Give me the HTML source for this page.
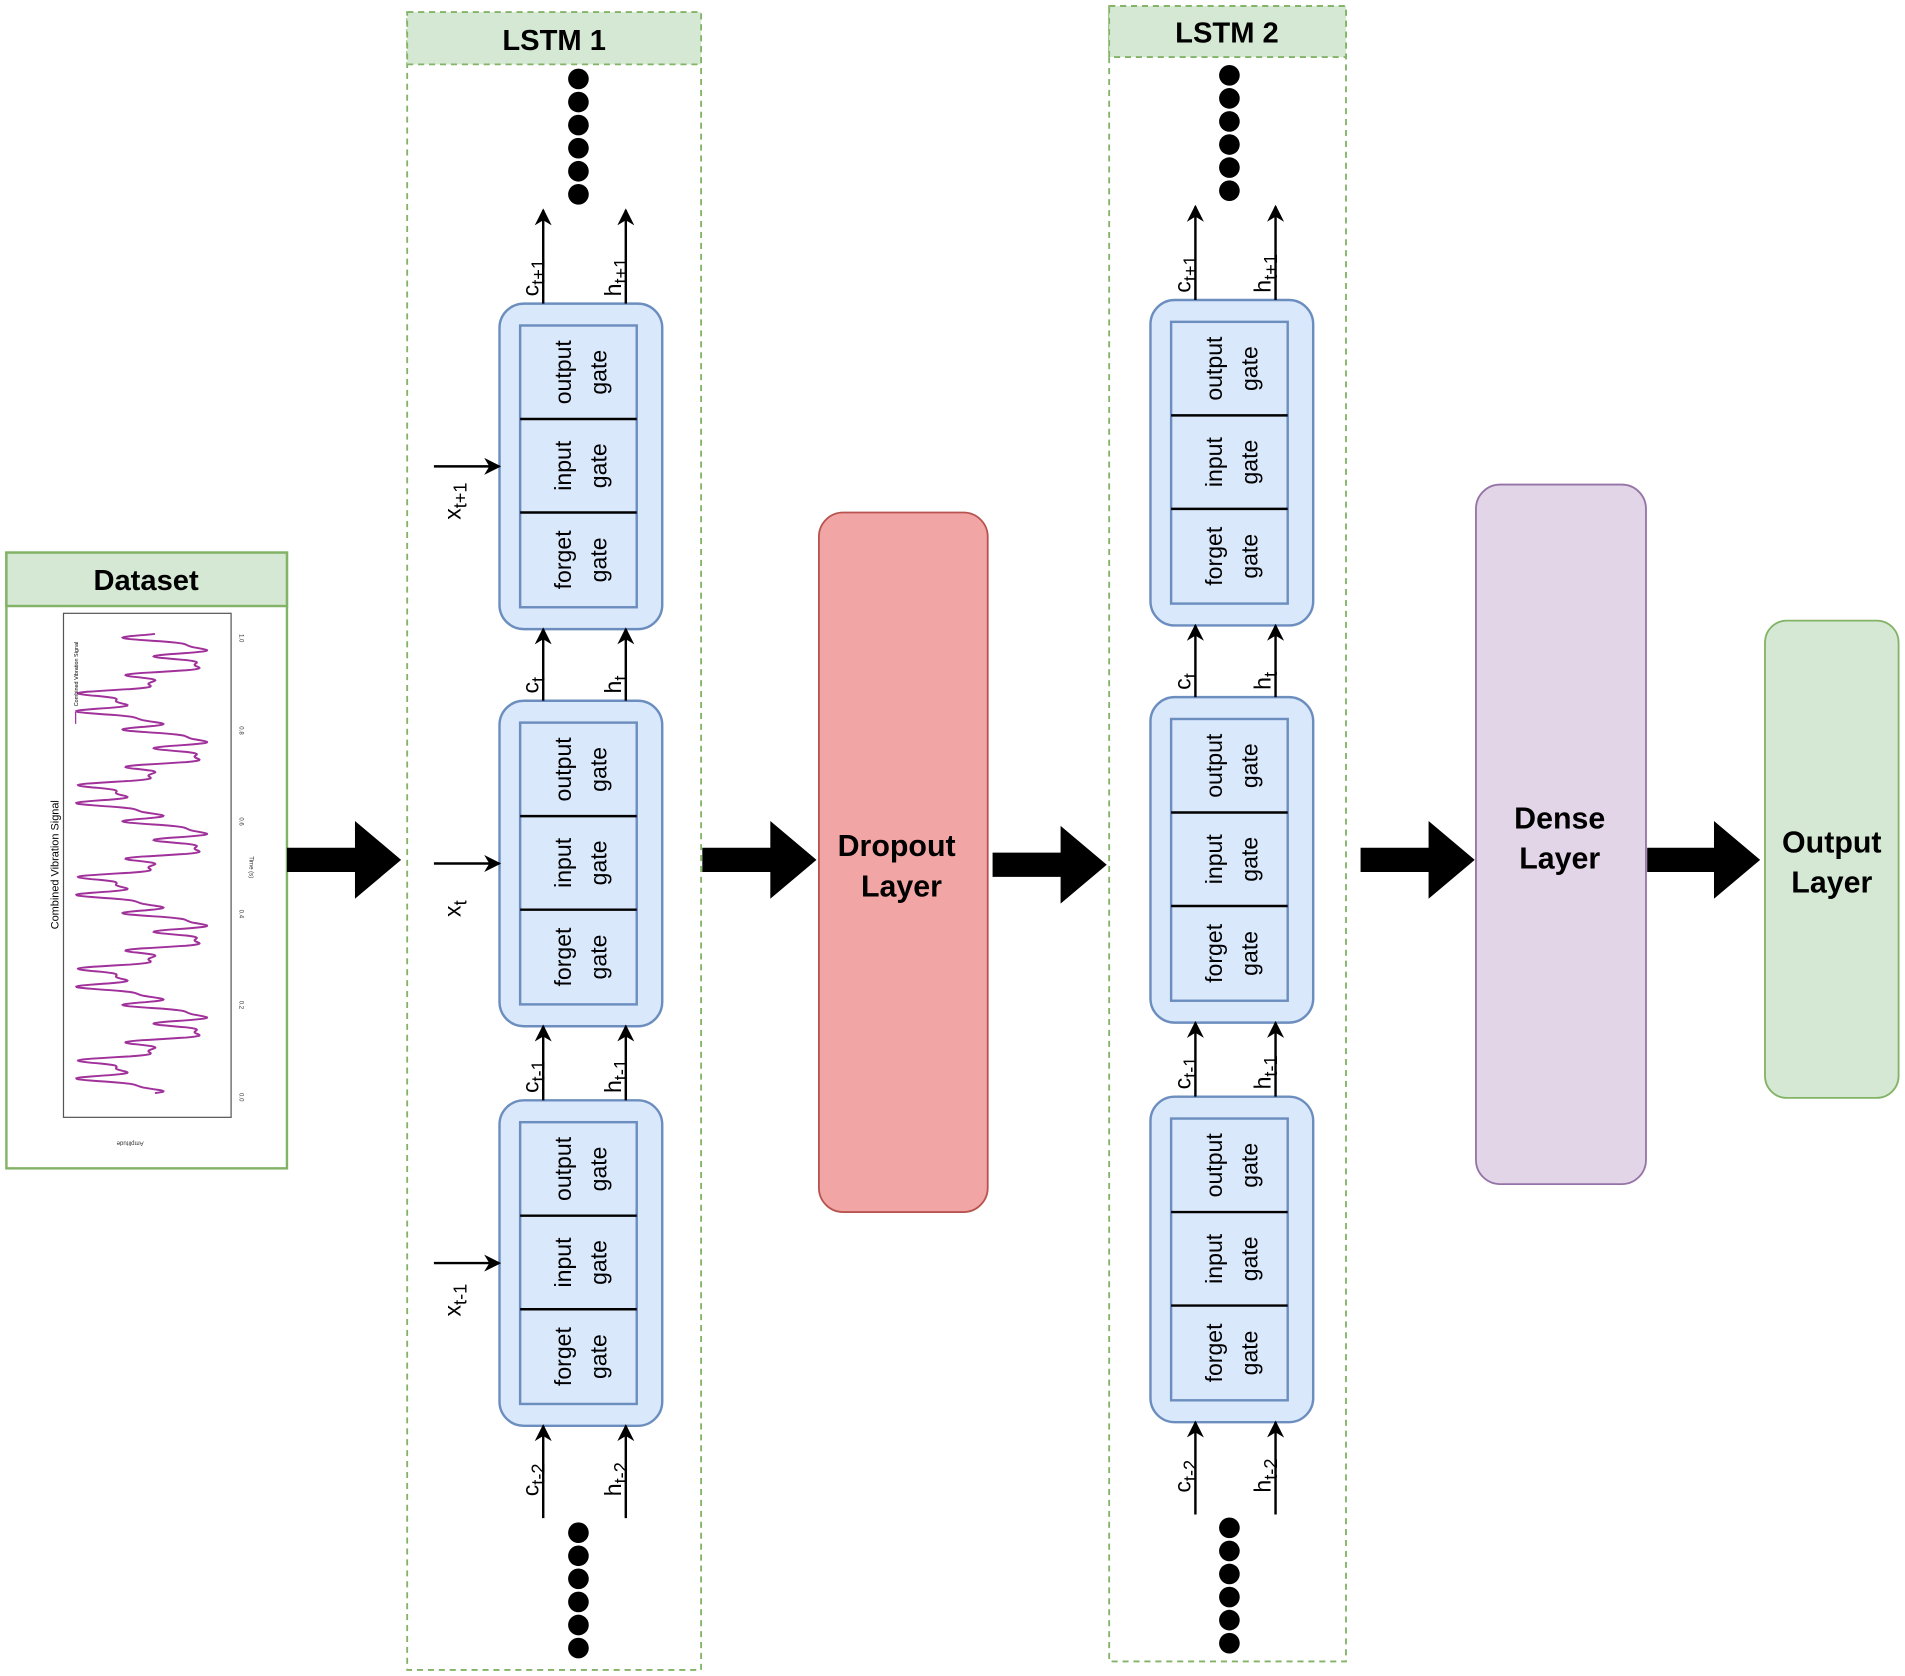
<!DOCTYPE html>
<html><head><meta charset="utf-8"><style>
html,body{margin:0;padding:0;background:#fff;}
svg{display:block;font-family:"Liberation Sans",Arial,sans-serif;}
</style></head><body>
<svg id="s" width="1905" height="1676" viewBox="0 0 1568 1380" xmlns="http://www.w3.org/2000/svg">
<defs>
<marker id="ah" viewBox="0 0 10 10" refX="9" refY="5" markerWidth="16" markerHeight="14" markerUnits="userSpaceOnUse" orient="auto">
<path d="M0,0 L10,5 L0,10 L3,5 z" fill="#000"/></marker>
</defs>
<rect width="1568" height="1380" fill="#fff"/>

<!-- Dataset -->
<rect x="5" y="455" width="231" height="507" fill="#fff" stroke="#82b366" stroke-width="2"/>
<rect x="5" y="455" width="231" height="44" fill="#d5e8d4" stroke="#82b366" stroke-width="2"/>
<text x="120" y="486" font-size="24" font-weight="bold" text-anchor="middle">Dataset</text>
<rect x="52" y="505" width="138" height="415" fill="#fff" stroke="#555" stroke-width="1"/>
<polyline id="sig" fill="none" stroke="#a0309a" stroke-width="1.6"/>
<text transform="translate(48,712) rotate(-90)" font-size="9" text-anchor="middle">Combined Vibration Signal</text>
<text transform="translate(64,555) rotate(-90)" font-size="4.5" text-anchor="middle">Combined Vibration Signal</text>
<line x1="62" y1="596" x2="62" y2="586" stroke="#a0309a"/>
<g font-size="5" fill="#333">
<text transform="translate(197,522) rotate(90)">1.0</text>
<text transform="translate(197,598) rotate(90)">0.8</text>
<text transform="translate(197,673) rotate(90)">0.6</text>
<text transform="translate(197,749) rotate(90)">0.4</text>
<text transform="translate(197,824) rotate(90)">0.2</text>
<text transform="translate(197,900) rotate(90)">0.0</text>
<text transform="translate(205,705) rotate(90)">Time (s)</text>
<text transform="translate(118,940) rotate(180)">Amplitude</text>
</g>

<!-- big arrows -->
<g fill="#000">
<path d="M236,698 H292 V676 L330,708 L292,740 V718 H236 z"/>
<path d="M578,698 H634 V676 L672,708 L634,740 V718 H578 z"/>
<path d="M817,702 H873 V680 L911,712 L873,744 V722 H817 z"/>
<path d="M1120,698 H1176 V676 L1214,708 L1176,740 V718 H1120 z"/>
<path d="M1356,698 H1411 V676 L1449,708 L1411,740 V718 H1356 z"/>
</g>

<!-- LSTM containers -->
<rect x="335" y="10" width="242" height="1365" fill="none" stroke="#82b366" stroke-width="1.5" stroke-dasharray="5,4"/>
<rect x="335" y="10" width="242" height="43" fill="#d5e8d4" stroke="#82b366" stroke-width="1.5" stroke-dasharray="5,4"/>
<text x="456" y="41" font-size="24" font-weight="bold" text-anchor="middle">LSTM 1</text>
<rect x="913" y="5" width="195" height="1363" fill="none" stroke="#82b366" stroke-width="1.5" stroke-dasharray="5,4"/>
<rect x="913" y="5" width="195" height="42" fill="#d5e8d4" stroke="#82b366" stroke-width="1.5" stroke-dasharray="5,4"/>
<text x="1010" y="35" font-size="24" font-weight="bold" text-anchor="middle">LSTM 2</text>

<g id="cells"></g>

<!-- layers -->
<rect x="674" y="422" width="139" height="576" rx="20" fill="#f2a5a5" stroke="#b85450" stroke-width="1.5"/>
<text x="738" y="705" font-size="25" font-weight="bold" text-anchor="middle">Dropout</text>
<text x="742" y="738" font-size="25" font-weight="bold" text-anchor="middle">Layer</text>
<rect x="1215" y="399" width="140" height="576" rx="20" fill="#e1d5e7" stroke="#9673a6" stroke-width="1.5"/>
<text x="1284" y="682" font-size="25" font-weight="bold" text-anchor="middle">Dense</text>
<text x="1284" y="715" font-size="25" font-weight="bold" text-anchor="middle">Layer</text>
<rect x="1453" y="511" width="110" height="393" rx="18" fill="#d5e8d4" stroke="#82b366" stroke-width="1.5"/>
<text x="1508" y="702" font-size="25" font-weight="bold" text-anchor="middle">Output</text>
<text x="1508" y="735" font-size="25" font-weight="bold" text-anchor="middle">Layer</text>
</svg>
<script>
(function(){
var pts=[];
for(var i=0;i<=1000;i++){var t=i/1000;
var a=Math.sin(2*Math.PI*5*t+Math.PI)*1.2+0.7*Math.sin(2*Math.PI*25*t)+0.3*Math.sin(2*Math.PI*50*t+1);
a=-a;
pts.push((120-a*29).toFixed(1)+","+(900-t*378).toFixed(1));}
document.getElementById("sig").setAttribute("points",pts.join(" "));
var g=document.getElementById("cells"),h="";
function cellSet(X,tops,cx,hx,dx,dotTop,dotBot,xin){
 var subs=[["t+1","t"],["t","t-1"],["t-1","t-2"]];
 var xl=["t+1","t","t-1"];
 tops.forEach(function(T,k){
  h+='<rect x="'+X+'" y="'+T+'" width="134" height="268" rx="20" fill="#dae8fc" stroke="#6c8ebf" stroke-width="2"/>';
  h+='<rect x="'+(X+17)+'" y="'+(T+18)+'" width="96" height="232" fill="#dae8fc" stroke="#6c8ebf" stroke-width="2"/>';
  var s=[T+18,T+95,T+172,T+250];
  h+='<line x1="'+(X+17)+'" y1="'+s[1]+'" x2="'+(X+113)+'" y2="'+s[1]+'" stroke="#000" stroke-width="2"/>';
  h+='<line x1="'+(X+17)+'" y1="'+s[2]+'" x2="'+(X+113)+'" y2="'+s[2]+'" stroke="#000" stroke-width="2"/>';
  var nm=["output","input","forget"];
  for(var j=0;j<3;j++){var cy=(s[j]+s[j+1])/2;
   h+='<text transform="translate('+(X+59)+','+cy+') rotate(-90)" font-size="19" text-anchor="middle">'+nm[j]+'</text>';
   h+='<text transform="translate('+(X+88)+','+cy+') rotate(-90)" font-size="19" text-anchor="middle">gate</text>';}
  if(xin){
   var iy=T+134;
   h+='<line x1="'+(X-54)+'" y1="'+iy+'" x2="'+X+'" y2="'+iy+'" stroke="#000" stroke-width="2" marker-end="url(#ah)"/>';
   h+='<text transform="translate('+(X-32)+','+(iy+44)+') rotate(-90)" font-size="19">x<tspan font-size="15" dy="5">'+xl[k]+'</tspan></text>';
  }
  var top0 = k==0 ? T-77 : tops[k-1]+268;
  [[cx,"c"],[hx,"h"]].forEach(function(p){
   h+='<line x1="'+p[0]+'" y1="'+T+'" x2="'+p[0]+'" y2="'+top0+'" stroke="#000" stroke-width="2" marker-end="url(#ah)"/>';
   h+='<text transform="translate('+(p[0]-4)+','+(T-6)+') rotate(-90)" font-size="19">'+p[1]+'<tspan font-size="15" dy="5">'+subs[k][0]+'</tspan></text>';
  });
 });
 var B=tops[2]+268;
 [[cx,"c"],[hx,"h"]].forEach(function(p){
  h+='<line x1="'+p[0]+'" y1="'+(B+76)+'" x2="'+p[0]+'" y2="'+B+'" stroke="#000" stroke-width="2" marker-end="url(#ah)"/>';
  h+='<text transform="translate('+(p[0]-4)+','+(B+58)+') rotate(-90)" font-size="19">'+p[1]+'<tspan font-size="15" dy="5">t-2</tspan></text>';
 });
 for(var d=0;d<6;d++){
  h+='<circle cx="'+dx+'" cy="'+(dotTop+d*19)+'" r="8.5" fill="#000"/>';
  h+='<circle cx="'+dx+'" cy="'+(dotBot+d*19)+'" r="8.5" fill="#000"/>';}
}
cellSet(411,[250,577,906],447,515,476,65,1262,true);
cellSet(947,[247,574,903],984,1050,1012,62,1258,false);
g.innerHTML=h;
})();
</script>
</body></html>
